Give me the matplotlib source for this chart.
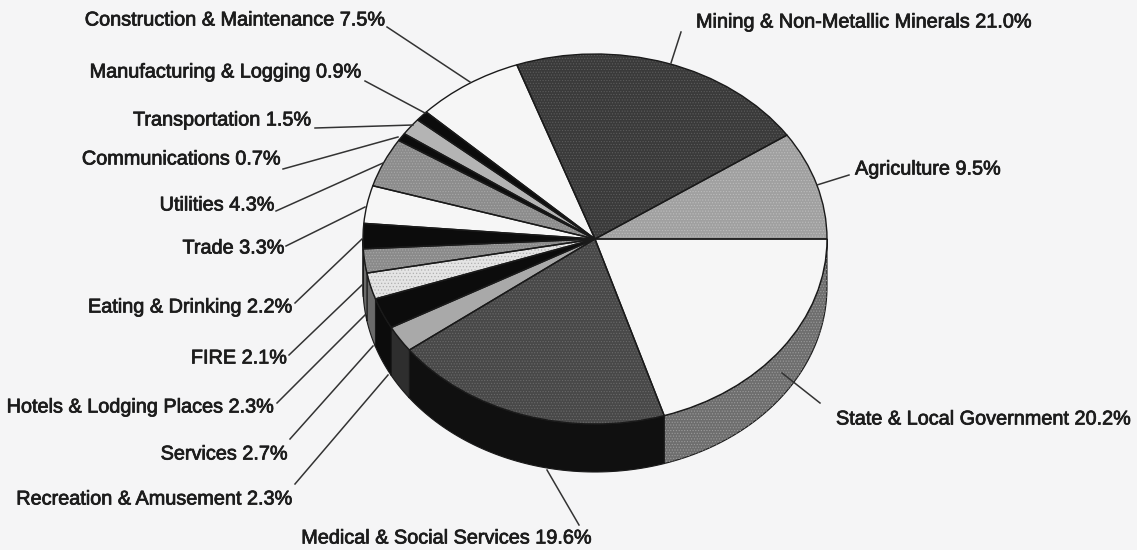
import numpy as np
import matplotlib
matplotlib.use('Agg')
import matplotlib.pyplot as plt
import matplotlib.patheffects as pe

plt.rcParams['font.family'] = ['Liberation Sans', 'DejaVu Sans']
plt.rcParams['hatch.linewidth'] = 0.5

W, H = 1137, 550

# sectors, clockwise from 3 o'clock
sectors = ['State & Local Government', 'Medical & Social Services', 'Recreation & Amusement',
           'Services', 'Hotels & Lodging Places', 'FIRE', 'Eating & Drinking', 'Trade',
           'Utilities', 'Communications', 'Transportation', 'Manufacturing & Logging',
           'Construction & Maintenance', 'Mining & Non-Metallic Minerals', 'Agriculture']
shares = [20.2, 19.6, 2.3, 2.7, 2.3, 2.1, 2.2, 3.3, 4.3, 0.7, 1.5, 0.9, 7.5, 21.0, 9.5]
top_colors = ['#f6f6f6', '#484848', '#a9a9a9', '#0c0c0c', '#e4e4e4', '#8a8a8a', '#0c0c0c', '#f6f6f6',
              '#8c8c8c', '#0c0c0c', '#b4b4b4', '#0c0c0c', '#f6f6f6', '#3a3a3a', '#a0a0a0']
side_colors = ['#6e6e6e', '#101010', '#2e2e2e', '#0c0c0c', '#6a6a6a', '#6a6a6a', '#4a4a4a', '#777777',
               '#444444', '#0c0c0c', '#555555', '#0c0c0c', '#777777', '#222222', '#505050']
# dot screens printed over the flat fills
top_hatches = ['', '......', '', '', '.....', '......', '', '',
               '......', '', '', '', '', '......', '......']
hatch_colors = ['none', '#6a6a6a', 'none', 'none', '#b0b0b0', '#a8a8a8', 'none', 'none',
                '#a8a8a8', 'none', 'none', 'none', 'none', '#5c5c5c', '#bcbcbc']

# label text anchor (end x, centre y, alignment) and leader line ends, in pixels
label_pos = [(836, 419, 'left'), (593, 538, 'right'), (293, 499, 'right'),
             (288, 454, 'right'), (275, 407, 'right'), (287, 358, 'right'), (293, 307, 'right'),
             (285, 248, 'right'), (275, 205, 'right'), (281, 159, 'right'), (312, 120, 'right'),
             (362, 72, 'right'), (386, 20, 'right'), (1033, 22, 'right'), (1001, 169, 'right')]
leader_out = [(820, 403), (579, 525), (295, 484), (290, 439), (277, 403), (289, 355), (295, 303),
              (286, 246), (276, 211), (283, 169), (315, 128), (365, 81), (387, 27), (681, 32), (849, 175)]
leader_in = [(782, 373), (547, 470), (388, 375), (373, 346), (365, 315), (362, 285), (362, 239),
             (365, 207), (383, 163), (398, 137), (413, 125), (425, 113), (470, 82), (671, 63), (817, 185)]

cx, cy = 595, 239
rx, ry = 232, 185
depth = 48

fig = plt.figure(figsize=(W / 100, H / 100), dpi=100, facecolor='#f5f5f6')

# the pie lives in unit-circle coordinates, the axes limits squash it into an ellipse
ax = fig.add_axes([0, 0, 1, 1], zorder=1)
ax.patch.set_alpha(0)
wedges, _ = ax.pie(shares, colors=top_colors, startangle=0, counterclock=False, radius=1,
                   wedgeprops={'edgecolor': 'none', 'linewidth': 0}, normalize=True)
for w, hatch, hc in zip(wedges, top_hatches, hatch_colors):
    if hatch:
        w.set_hatch(hatch)
        w.set_edgecolor(hc)

# outlines go on a second pass so the hatch colour does not touch them
ax.pie(shares, colors=['none'] * len(shares), startangle=0, counterclock=False, radius=1,
       wedgeprops={'edgecolor': '#1a1a1a', 'linewidth': 1.0}, normalize=True)
ax.set_xlim(-cx / rx, (W - cx) / rx)
ax.set_ylim((cy - H) / ry, cy / ry)
ax.set_aspect('auto')

# pie wall: only the part of each slice that lies on the lower half of the rim
total = sum(shares)
ends = np.cumsum(shares) / total * 2 * np.pi
starts = np.concatenate([[0], ends[:-1]])
drop = depth / ry
for i, (s, e, c) in enumerate(zip(starts, ends, side_colors)):
    if s >= np.pi:
        break
    t = np.linspace(s, min(e, np.pi), 60)
    xs = np.cos(t)
    ys = -np.sin(t)
    ax.fill(np.r_[xs, xs[::-1]], np.r_[ys, ys[::-1] - drop], facecolor=c,
            edgecolor='#1a1a1a', linewidth=0.8, zorder=0)
    if i == 0:
        ax.fill(np.r_[xs, xs[::-1]], np.r_[ys, ys[::-1] - drop], facecolor='none',
                edgecolor='#9a9a9a', linewidth=0, hatch='......', zorder=0)

# labels and leader lines in pixel coordinates
lab = fig.add_axes([0, 0, 1, 1], zorder=2)
lab.set_xlim(0, W)
lab.set_ylim(H, 0)
lab.axis('off')
for name, share, (x, y, ha), p0, p1 in zip(sectors, shares, label_pos, leader_out, leader_in):
    lab.text(x, y, f'{name} {share:.1f}%', ha=ha, va='center', fontsize=14.3, color='#1c1c1c',
             path_effects=[pe.withStroke(linewidth=0.55, foreground='#1c1c1c')])
    lab.plot([p0[0], p1[0]], [p0[1], p1[1]], color='#333333', lw=1.1)

fig.savefig('out.png', dpi=100, facecolor=fig.get_facecolor())
